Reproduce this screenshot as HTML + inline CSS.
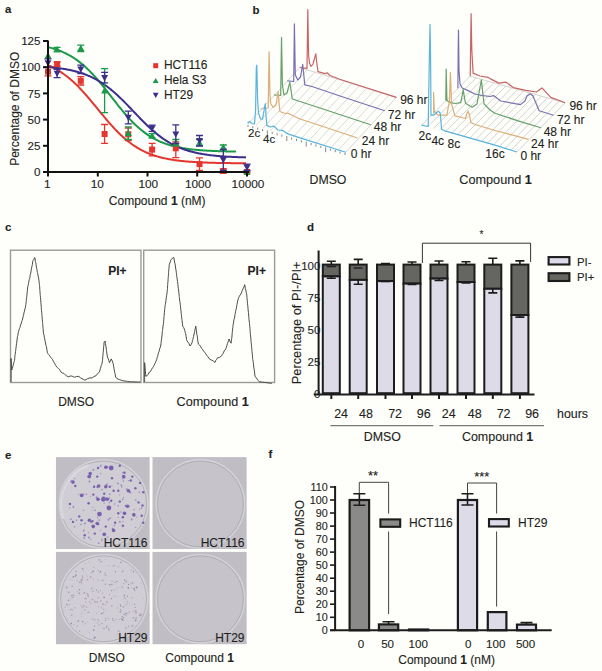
<!DOCTYPE html>
<html><head><meta charset="utf-8"><style>
html,body{margin:0;padding:0;background:#fff;}
svg{display:block;}
text{font-family:"Liberation Sans",sans-serif;stroke:#2a2a2a;stroke-width:0.12px;}
</style></head><body>
<svg width="602" height="671" viewBox="0 0 602 671">
<rect width="602" height="671" fill="#fefefb"/>
<text x="5" y="13.4" font-size="11.3" text-anchor="start" font-weight="bold" fill="#231f20" >a</text>
<polyline points="48.0,65.13 49.0,65.57 50.0,66.02 51.0,66.49 52.0,66.97 53.0,67.47 54.0,67.99 55.0,68.53 56.0,69.08 57.0,69.65 58.0,70.25 59.0,70.86 60.0,71.49 61.0,72.14 62.0,72.81 63.0,73.50 64.0,74.21 65.0,74.95 66.0,75.70 67.0,76.48 68.0,77.27 69.0,78.09 70.0,78.93 71.0,79.79 72.0,80.67 73.0,81.57 74.0,82.49 75.0,83.43 76.0,84.40 77.0,85.38 78.0,86.38 79.0,87.40 80.0,88.44 81.0,89.50 82.0,90.57 83.0,91.66 84.0,92.77 85.0,93.89 86.0,95.03 87.0,96.18 88.0,97.34 89.0,98.51 90.0,99.69 91.0,100.88 92.0,102.08 93.0,103.29 94.0,104.50 95.0,105.72 96.0,106.94 97.0,108.16 98.0,109.38 99.0,110.61 100.0,111.83 101.0,113.05 102.0,114.26 103.0,115.47 104.0,116.67 105.0,117.87 106.0,119.05 107.0,120.23 108.0,121.40 109.0,122.55 110.0,123.69 111.0,124.82 112.0,125.93 113.0,127.03 114.0,128.11 115.0,129.17 116.0,130.22 117.0,131.25 118.0,132.26 119.0,133.25 120.0,134.22 121.0,135.17 122.0,136.10 123.0,137.01 124.0,137.90 125.0,138.77 126.0,139.61 127.0,140.44 128.0,141.24 129.0,142.03 130.0,142.79 131.0,143.53 132.0,144.25 133.0,144.95 134.0,145.63 135.0,146.29 136.0,146.93 137.0,147.55 138.0,148.14 139.0,148.73 140.0,149.29 141.0,149.83 142.0,150.36 143.0,150.86 144.0,151.35 145.0,151.83 146.0,152.29 147.0,152.73 148.0,153.15 149.0,153.56 150.0,153.96 151.0,154.34 152.0,154.71 153.0,155.06 154.0,155.40 155.0,155.73 156.0,156.04 157.0,156.34 158.0,156.64 159.0,156.92 160.0,157.18 161.0,157.44 162.0,157.69 163.0,157.93 164.0,158.16 165.0,158.38 166.0,158.59 167.0,158.79 168.0,158.99 169.0,159.18 170.0,159.35 171.0,159.53 172.0,159.69 173.0,159.85 174.0,160.00 175.0,160.15 176.0,160.29 177.0,160.42 178.0,160.55 179.0,160.67 180.0,160.79 181.0,160.90 182.0,161.01 183.0,161.11 184.0,161.21 185.0,161.30 186.0,161.40 187.0,161.48 188.0,161.57 189.0,161.65 190.0,161.72 191.0,161.79 192.0,161.86 193.0,161.93 194.0,162.00 195.0,162.06 196.0,162.12 197.0,162.17 198.0,162.23 199.0,162.28 200.0,162.33 201.0,162.37 202.0,162.42 203.0,162.46 204.0,162.50 205.0,162.54 206.0,162.58 207.0,162.62 208.0,162.65 209.0,162.68 210.0,162.71 211.0,162.74 212.0,162.77 213.0,162.80 214.0,162.83 215.0,162.85 216.0,162.88 217.0,162.90 218.0,162.92 219.0,162.94 220.0,162.96 221.0,162.98 222.0,163.00 223.0,163.02 224.0,163.04 225.0,163.05 226.0,163.07 227.0,163.08 228.0,163.10 229.0,163.11 230.0,163.12 231.0,163.14 232.0,163.15 233.0,163.16 234.0,163.17 235.0,163.18 236.0,163.19 237.0,163.20 238.0,163.21 239.0,163.22 240.0,163.23 241.0,163.23 242.0,163.24 243.0,163.25 244.0,163.26 245.0,163.26 246.0,163.27" fill="none" stroke="#e4352f" stroke-width="2"/>
<polyline points="48.0,47.10 49.0,47.35 50.0,47.61 51.0,47.88 52.0,48.16 53.0,48.45 54.0,48.76 55.0,49.07 56.0,49.40 57.0,49.75 58.0,50.10 59.0,50.48 60.0,50.86 61.0,51.26 62.0,51.68 63.0,52.12 64.0,52.57 65.0,53.04 66.0,53.52 67.0,54.02 68.0,54.55 69.0,55.09 70.0,55.65 71.0,56.23 72.0,56.83 73.0,57.45 74.0,58.09 75.0,58.76 76.0,59.44 77.0,60.15 78.0,60.88 79.0,61.63 80.0,62.40 81.0,63.20 82.0,64.02 83.0,64.86 84.0,65.73 85.0,66.62 86.0,67.53 87.0,68.47 88.0,69.42 89.0,70.40 90.0,71.41 91.0,72.43 92.0,73.47 93.0,74.54 94.0,75.63 95.0,76.73 96.0,77.86 97.0,79.00 98.0,80.16 99.0,81.34 100.0,82.53 101.0,83.73 102.0,84.95 103.0,86.19 104.0,87.43 105.0,88.68 106.0,89.94 107.0,91.21 108.0,92.49 109.0,93.77 110.0,95.05 111.0,96.33 112.0,97.62 113.0,98.90 114.0,100.18 115.0,101.46 116.0,102.73 117.0,104.00 118.0,105.26 119.0,106.51 120.0,107.75 121.0,108.98 122.0,110.19 123.0,111.39 124.0,112.58 125.0,113.75 126.0,114.91 127.0,116.04 128.0,117.16 129.0,118.26 130.0,119.34 131.0,120.40 132.0,121.44 133.0,122.46 134.0,123.45 135.0,124.42 136.0,125.37 137.0,126.30 138.0,127.21 139.0,128.09 140.0,128.95 141.0,129.78 142.0,130.60 143.0,131.39 144.0,132.15 145.0,132.90 146.0,133.62 147.0,134.32 148.0,135.00 149.0,135.65 150.0,136.29 151.0,136.90 152.0,137.50 153.0,138.07 154.0,138.63 155.0,139.16 156.0,139.68 157.0,140.18 158.0,140.66 159.0,141.12 160.0,141.56 161.0,141.99 162.0,142.40 163.0,142.80 164.0,143.18 165.0,143.55 166.0,143.90 167.0,144.24 168.0,144.57 169.0,144.88 170.0,145.18 171.0,145.47 172.0,145.75 173.0,146.01 174.0,146.27 175.0,146.51 176.0,146.75 177.0,146.97 178.0,147.19 179.0,147.39 180.0,147.59 181.0,147.78 182.0,147.96 183.0,148.13 184.0,148.30 185.0,148.46 186.0,148.61 187.0,148.76 188.0,148.90 189.0,149.03 190.0,149.16 191.0,149.28 192.0,149.40 193.0,149.51 194.0,149.62 195.0,149.72 196.0,149.82 197.0,149.91 198.0,150.00 199.0,150.09 200.0,150.17 201.0,150.25 202.0,150.32 203.0,150.39 204.0,150.46 205.0,150.53 206.0,150.59 207.0,150.65 208.0,150.70 209.0,150.76 210.0,150.81 211.0,150.86 212.0,150.91 213.0,150.95 214.0,151.00 215.0,151.04 216.0,151.08 217.0,151.11 218.0,151.15 219.0,151.18 220.0,151.22 221.0,151.25 222.0,151.28 223.0,151.31 224.0,151.33 225.0,151.36 226.0,151.39 227.0,151.41 228.0,151.43 229.0,151.45 230.0,151.47 231.0,151.49 232.0,151.51 233.0,151.53 234.0,151.55 235.0,151.56 236.0,151.58" fill="none" stroke="#1a9a4a" stroke-width="2"/>
<polyline points="48.0,67.03 49.0,67.11 50.0,67.20 51.0,67.29 52.0,67.39 53.0,67.49 54.0,67.60 55.0,67.71 56.0,67.82 57.0,67.94 58.0,68.07 59.0,68.20 60.0,68.33 61.0,68.48 62.0,68.62 63.0,68.78 64.0,68.94 65.0,69.11 66.0,69.28 67.0,69.47 68.0,69.66 69.0,69.85 70.0,70.06 71.0,70.28 72.0,70.50 73.0,70.73 74.0,70.97 75.0,71.23 76.0,71.49 77.0,71.76 78.0,72.05 79.0,72.34 80.0,72.65 81.0,72.97 82.0,73.30 83.0,73.64 84.0,74.00 85.0,74.37 86.0,74.75 87.0,75.15 88.0,75.56 89.0,75.98 90.0,76.42 91.0,76.88 92.0,77.35 93.0,77.84 94.0,78.35 95.0,78.87 96.0,79.41 97.0,79.96 98.0,80.54 99.0,81.13 100.0,81.74 101.0,82.36 102.0,83.01 103.0,83.67 104.0,84.35 105.0,85.05 106.0,85.77 107.0,86.51 108.0,87.26 109.0,88.03 110.0,88.82 111.0,89.63 112.0,90.46 113.0,91.30 114.0,92.16 115.0,93.04 116.0,93.93 117.0,94.84 118.0,95.76 119.0,96.70 120.0,97.65 121.0,98.61 122.0,99.59 123.0,100.58 124.0,101.58 125.0,102.59 126.0,103.60 127.0,104.63 128.0,105.66 129.0,106.70 130.0,107.74 131.0,108.79 132.0,109.84 133.0,110.89 134.0,111.94 135.0,112.99 136.0,114.04 137.0,115.09 138.0,116.13 139.0,117.17 140.0,118.21 141.0,119.23 142.0,120.25 143.0,121.27 144.0,122.27 145.0,123.26 146.0,124.24 147.0,125.20 148.0,126.16 149.0,127.10 150.0,128.03 151.0,128.94 152.0,129.84 153.0,130.72 154.0,131.58 155.0,132.43 156.0,133.26 157.0,134.07 158.0,134.87 159.0,135.65 160.0,136.41 161.0,137.15 162.0,137.87 163.0,138.57 164.0,139.26 165.0,139.93 166.0,140.58 167.0,141.21 168.0,141.82 169.0,142.42 170.0,143.00 171.0,143.56 172.0,144.10 173.0,144.63 174.0,145.14 175.0,145.63 176.0,146.11 177.0,146.57 178.0,147.01 179.0,147.44 180.0,147.86 181.0,148.26 182.0,148.65 183.0,149.02 184.0,149.38 185.0,149.73 186.0,150.06 187.0,150.38 188.0,150.69 189.0,150.99 190.0,151.28 191.0,151.55 192.0,151.82 193.0,152.07 194.0,152.32 195.0,152.55 196.0,152.78 197.0,153.00 198.0,153.20 199.0,153.40 200.0,153.60 201.0,153.78 202.0,153.96 203.0,154.13 204.0,154.29 205.0,154.45 206.0,154.60 207.0,154.74 208.0,154.88 209.0,155.01 210.0,155.14 211.0,155.26 212.0,155.38 213.0,155.49 214.0,155.59 215.0,155.70 216.0,155.79 217.0,155.89 218.0,155.98 219.0,156.06 220.0,156.15 221.0,156.22 222.0,156.30 223.0,156.37 224.0,156.44 225.0,156.51 226.0,156.57 227.0,156.63 228.0,156.69 229.0,156.74 230.0,156.80 231.0,156.85 232.0,156.90 233.0,156.94 234.0,156.99 235.0,157.03 236.0,157.07 237.0,157.11 238.0,157.15 239.0,157.18 240.0,157.22 241.0,157.25 242.0,157.28 243.0,157.31 244.0,157.34 245.0,157.37 246.0,157.39" fill="none" stroke="#3c2f8c" stroke-width="2"/>
<path d="M48.0,67.4V75.8M44.5,67.4h7M44.5,75.8h7" stroke="#e4352f" stroke-width="1.3" fill="none"/>
<rect x="45.0" y="68.6" width="6" height="6" fill="#e4352f"/>
<path d="M57.1,62.0V66.2M53.6,62.0h7M53.6,66.2h7" stroke="#e4352f" stroke-width="1.3" fill="none"/>
<rect x="54.1" y="61.1" width="6" height="6" fill="#e4352f"/>
<path d="M80.8,76.6V85.0M77.3,76.6h7M77.3,85.0h7" stroke="#e4352f" stroke-width="1.3" fill="none"/>
<rect x="77.8" y="77.8" width="6" height="6" fill="#e4352f"/>
<path d="M104.6,124.5V143.4M101.1,124.5h7M101.1,143.4h7" stroke="#e4352f" stroke-width="1.3" fill="none"/>
<rect x="101.6" y="131.0" width="6" height="6" fill="#e4352f"/>
<path d="M128.3,128.0V140.6M124.8,128.0h7M124.8,140.6h7" stroke="#e4352f" stroke-width="1.3" fill="none"/>
<rect x="125.3" y="131.3" width="6" height="6" fill="#e4352f"/>
<path d="M152.1,143.3V155.9M148.6,143.3h7M148.6,155.9h7" stroke="#e4352f" stroke-width="1.3" fill="none"/>
<rect x="149.1" y="146.6" width="6" height="6" fill="#e4352f"/>
<path d="M175.8,142.0V157.7M172.3,142.0h7M172.3,157.7h7" stroke="#e4352f" stroke-width="1.3" fill="none"/>
<rect x="172.8" y="145.3" width="6" height="6" fill="#e4352f"/>
<path d="M199.5,157.9V170.4M196.0,157.9h7M196.0,170.4h7" stroke="#e4352f" stroke-width="1.3" fill="none"/>
<rect x="196.5" y="161.1" width="6" height="6" fill="#e4352f"/>
<path d="M223.3,168.9V173.0M219.8,168.9h7M219.8,173.0h7" stroke="#e4352f" stroke-width="1.3" fill="none"/>
<rect x="220.3" y="168.0" width="6" height="6" fill="#e4352f"/>
<path d="M247.0,171.0V173.0M243.5,171.0h7M243.5,173.0h7" stroke="#e4352f" stroke-width="1.3" fill="none"/>
<rect x="244.0" y="169.0" width="6" height="6" fill="#e4352f"/>
<path d="M48.0,52.2L51.5,58.5L44.5,58.5Z" fill="#1a9a4a"/>
<path d="M57.1,47.3V51.5M53.6,47.3h7M53.6,51.5h7" stroke="#1a9a4a" stroke-width="1.3" fill="none"/>
<path d="M57.1,45.9L60.6,52.2L53.6,52.2Z" fill="#1a9a4a"/>
<path d="M80.8,45.2V51.5M77.3,45.2h7M77.3,51.5h7" stroke="#1a9a4a" stroke-width="1.3" fill="none"/>
<path d="M80.8,44.8L84.3,51.1L77.3,51.1Z" fill="#1a9a4a"/>
<path d="M104.6,68.6V112.6M101.1,68.6h7M101.1,112.6h7" stroke="#1a9a4a" stroke-width="1.3" fill="none"/>
<path d="M104.6,87.1L108.1,93.4L101.1,93.4Z" fill="#1a9a4a"/>
<path d="M128.3,126.9V139.5M124.8,126.9h7M124.8,139.5h7" stroke="#1a9a4a" stroke-width="1.3" fill="none"/>
<path d="M128.3,129.7L131.8,136.0L124.8,136.0Z" fill="#1a9a4a"/>
<path d="M152.1,133.6V137.8M148.6,133.6h7M148.6,137.8h7" stroke="#1a9a4a" stroke-width="1.3" fill="none"/>
<path d="M152.1,132.2L155.6,138.5L148.6,138.5Z" fill="#1a9a4a"/>
<path d="M175.8,139.5V145.8M172.3,139.5h7M172.3,145.8h7" stroke="#1a9a4a" stroke-width="1.3" fill="none"/>
<path d="M175.8,139.2L179.3,145.5L172.3,145.5Z" fill="#1a9a4a"/>
<path d="M199.5,139.5V145.8M196.0,139.5h7M196.0,145.8h7" stroke="#1a9a4a" stroke-width="1.3" fill="none"/>
<path d="M199.5,139.2L203.0,145.5L196.0,145.5Z" fill="#1a9a4a"/>
<path d="M223.3,145.0V151.2M219.8,145.0h7M219.8,151.2h7" stroke="#1a9a4a" stroke-width="1.3" fill="none"/>
<path d="M223.3,143.6L226.8,149.9L219.8,149.9Z" fill="#1a9a4a"/>
<path d="M247.0,168.5L250.5,174.8L243.5,174.8Z" fill="#1a9a4a"/>
<path d="M48.0,58.8V67.2M44.5,58.8h7M44.5,67.2h7" stroke="#3c2f8c" stroke-width="1.3" fill="none"/>
<path d="M44.5,60.2L51.5,60.2L48.0,66.5Z" fill="#3c2f8c"/>
<path d="M57.1,69.3V77.7M53.6,69.3h7M53.6,77.7h7" stroke="#3c2f8c" stroke-width="1.3" fill="none"/>
<path d="M53.6,70.7L60.6,70.7L57.1,77.0Z" fill="#3c2f8c"/>
<path d="M80.8,65.1V73.5M77.3,65.1h7M77.3,73.5h7" stroke="#3c2f8c" stroke-width="1.3" fill="none"/>
<path d="M77.3,66.5L84.3,66.5L80.8,72.8Z" fill="#3c2f8c"/>
<path d="M104.6,72.4V82.9M101.1,72.4h7M101.1,82.9h7" stroke="#3c2f8c" stroke-width="1.3" fill="none"/>
<path d="M101.1,74.9L108.1,74.9L104.6,81.2Z" fill="#3c2f8c"/>
<path d="M128.3,111.2V123.8M124.8,111.2h7M124.8,123.8h7" stroke="#3c2f8c" stroke-width="1.3" fill="none"/>
<path d="M124.8,114.7L131.8,114.7L128.3,121.0Z" fill="#3c2f8c"/>
<path d="M152.1,125.2V131.4M148.6,125.2h7M148.6,131.4h7" stroke="#3c2f8c" stroke-width="1.3" fill="none"/>
<path d="M148.6,125.5L155.6,125.5L152.1,131.8Z" fill="#3c2f8c"/>
<path d="M175.8,124.8V143.7M172.3,124.8h7M172.3,143.7h7" stroke="#3c2f8c" stroke-width="1.3" fill="none"/>
<path d="M172.3,131.5L179.3,131.5L175.8,137.8Z" fill="#3c2f8c"/>
<path d="M199.5,135.5V146.0M196.0,135.5h7M196.0,146.0h7" stroke="#3c2f8c" stroke-width="1.3" fill="none"/>
<path d="M196.0,138.0L203.0,138.0L199.5,144.3Z" fill="#3c2f8c"/>
<path d="M223.3,149.5V170.4M219.8,149.5h7M219.8,170.4h7" stroke="#3c2f8c" stroke-width="1.3" fill="none"/>
<path d="M219.8,157.1L226.8,157.1L223.3,163.4Z" fill="#3c2f8c"/>
<path d="M247.0,164.2V170.5M243.5,164.2h7M243.5,170.5h7" stroke="#3c2f8c" stroke-width="1.3" fill="none"/>
<path d="M243.5,164.6L250.5,164.6L247.0,170.9Z" fill="#3c2f8c"/>
<path d="M48,40.5V173M47,172H249" stroke="#111" stroke-width="2" fill="none"/>
<path d="M43,172.0H48" stroke="#111" stroke-width="2"/>
<text x="40.5" y="176.2" font-size="11.6" text-anchor="end" font-weight="normal" fill="#231f20" >0</text>
<path d="M43,145.8H48" stroke="#111" stroke-width="2"/>
<text x="40.5" y="150.0" font-size="11.6" text-anchor="end" font-weight="normal" fill="#231f20" >25</text>
<path d="M43,119.6H48" stroke="#111" stroke-width="2"/>
<text x="40.5" y="123.8" font-size="11.6" text-anchor="end" font-weight="normal" fill="#231f20" >50</text>
<path d="M43,93.4H48" stroke="#111" stroke-width="2"/>
<text x="40.5" y="97.6" font-size="11.6" text-anchor="end" font-weight="normal" fill="#231f20" >75</text>
<path d="M43,67.2H48" stroke="#111" stroke-width="2"/>
<text x="40.5" y="71.39999999999999" font-size="11.6" text-anchor="end" font-weight="normal" fill="#231f20" >100</text>
<path d="M43,41.0H48" stroke="#111" stroke-width="2"/>
<text x="40.5" y="45.2" font-size="11.6" text-anchor="end" font-weight="normal" fill="#231f20" >125</text>
<path d="M48.0,172V176.5" stroke="#111" stroke-width="2"/>
<text x="47.4" y="188.3" font-size="11.8" text-anchor="middle" font-weight="normal" fill="#231f20" >1</text>
<path d="M97.8,172V176.5" stroke="#111" stroke-width="2"/>
<text x="97.25" y="188.3" font-size="11.8" text-anchor="middle" font-weight="normal" fill="#231f20" >10</text>
<path d="M147.5,172V176.5" stroke="#111" stroke-width="2"/>
<text x="148.3" y="188.3" font-size="11.8" text-anchor="middle" font-weight="normal" fill="#231f20" >100</text>
<path d="M197.2,172V176.5" stroke="#111" stroke-width="2"/>
<text x="198.05" y="188.3" font-size="11.8" text-anchor="middle" font-weight="normal" fill="#231f20" >1000</text>
<path d="M247.0,172V176.5" stroke="#111" stroke-width="2"/>
<text x="248.0" y="188.3" font-size="11.8" text-anchor="middle" font-weight="normal" fill="#231f20" >10000</text>
<text x="157.2" y="205.2" font-size="12" text-anchor="middle" font-weight="normal" fill="#231f20" >Compound <tspan font-weight="bold">1</tspan> (nM)</text>
<text x="0" y="0" font-size="12" text-anchor="middle" font-weight="normal" fill="#231f20" transform="translate(19.1,108.8) rotate(-90)">Percentage of DMSO</text>
<rect x="153.2" y="63.2" width="5" height="5" fill="#e4352f"/>
<path d="M155.7,77.9L158.7,83L152.7,83Z" fill="#1a9a4a"/>
<path d="M152.8,92.8L158.6,92.8L155.7,98Z" fill="#3c2f8c"/>
<text x="164" y="68.6" font-size="11.9" text-anchor="start" font-weight="normal" fill="#231f20" >HCT116</text>
<text x="164" y="84" font-size="11.9" text-anchor="start" font-weight="normal" fill="#231f20" >Hela S3</text>
<text x="164" y="98.5" font-size="11.9" text-anchor="start" font-weight="normal" fill="#231f20" >HT29</text>
<text x="252.5" y="13.6" font-size="11.5" text-anchor="start" font-weight="bold" fill="#231f20" >b</text>
<path d="M248,124L299.8,67.5L396.4,97.4L345.8,152.2" fill="none" stroke="#c8c8c8" stroke-width="0.8"/>
<path d="M255.5,126.2L307.2,69.8M263.0,128.3L314.7,72.1M270.6,130.5L322.1,74.4M278.1,132.7L329.5,76.7M285.6,134.8L337.0,79.0M293.1,137.0L344.4,81.3M300.7,139.2L351.8,83.6M308.2,141.4L359.2,85.9M315.7,143.5L366.7,88.2M323.2,145.7L374.1,90.5M330.8,147.9L381.5,92.8M338.3,150.0L389.0,95.1" stroke="#d0d0d0" stroke-width="0.8" fill="none"/>
<polyline points="299.8,67.5 307.0,68.3 307.8,9.7 308.6,55 309.5,63 311,66.5 313,64 315.8,53.8 316.8,63 318,71.7 325,73.6 327,72.8 330,75.5 339.7,79.2 396.4,97.4" fill="none" stroke="#c96464" stroke-width="1.2" stroke-linejoin="round"/>
<polyline points="287.3,80.8 293.7,81.5 294.4,23.9 295.3,75 297.8,80 300.5,77 302.7,64.3 303.8,75 304.8,84.9 312,86.5 340,96 384.8,110.7" fill="none" stroke="#7a72b0" stroke-width="1.2" stroke-linejoin="round"/>
<polyline points="274,94.9 280.7,95.5 281.5,37.4 282.4,85 284,94.9 287,93 289.8,82.4 291,90 292.3,99 300,101.5 320,108 370.7,124.8" fill="none" stroke="#66a06a" stroke-width="1.2" stroke-linejoin="round"/>
<polyline points="260.8,109 268.2,108 269.1,51.6 270,95 270.8,104 273.2,107.3 276,105 278.2,91.6 279.2,105 279.9,111.5 285,113.5 287.5,113 300,119 320,125.5 357.4,138" fill="none" stroke="#dcae78" stroke-width="1.2" stroke-linejoin="round"/>
<path d="M248.0,124.8V127.0M252.8,126.2V128.4M257.7,127.6V129.8M262.6,129.0V131.2M267.4,130.4V135.4M272.2,131.8V134.0M277.1,133.2V135.4M281.9,134.6V136.8M286.8,136.0V141.0M291.6,137.4V139.6M296.5,138.8V141.0M301.4,140.2V142.4M306.2,141.6V146.6M311.1,143.0V145.2M315.9,144.4V146.6M320.8,145.8V148.0M325.6,147.2V152.2M330.4,148.6V150.8M335.3,150.0V152.2M340.1,151.4V153.6M345.0,152.8V155.0" stroke="#7a7a7a" stroke-width="0.9"/>
<polyline points="247.5,122.9 249.5,121.4 252,123.5 254.5,124 255.6,110 256.3,68 256.8,65 257.6,100 258.5,113 260.5,119 262.5,119.2 264.5,108 265.3,103.5 266.2,118 266.8,125.4 270,127 273.9,126.1 277.9,130 282.9,130.4 287.9,133.9 304.8,139.4 345.8,152.2" fill="none" stroke="#58b4dc" stroke-width="1.2" stroke-linejoin="round"/>
<text x="400.2" y="103.9" font-size="12" text-anchor="start" font-weight="normal" fill="#231f20" >96 hr</text>
<text x="387.8" y="118.5" font-size="12" text-anchor="start" font-weight="normal" fill="#231f20" >72 hr</text>
<text x="373.8" y="131.2" font-size="12" text-anchor="start" font-weight="normal" fill="#231f20" >48 hr</text>
<text x="361.8" y="145.3" font-size="12" text-anchor="start" font-weight="normal" fill="#231f20" >24 hr</text>
<text x="350.8" y="158.1" font-size="12" text-anchor="start" font-weight="normal" fill="#231f20" >0 hr</text>
<text x="248" y="137.4" font-size="11.5" text-anchor="start" font-weight="normal" fill="#231f20" >2c</text>
<text x="263" y="142.9" font-size="11.5" text-anchor="start" font-weight="normal" fill="#231f20" >4c</text>
<text x="328" y="183.7" font-size="12.3" text-anchor="middle" font-weight="normal" fill="#231f20" >DMSO</text>
<path d="M421.6,125.2L470.2,76.2L565.1,102.8L516.8,152" fill="none" stroke="#c8c8c8" stroke-width="0.8"/>
<path d="M427.6,126.9L476.1,77.9M433.5,128.6L482.1,79.5M439.4,130.2L488.0,81.2M445.4,131.9L493.9,82.8M451.4,133.6L499.9,84.5M457.3,135.2L505.8,86.2M463.2,136.9L511.7,87.8M469.2,138.6L517.6,89.5M475.1,140.3L523.6,91.2M481.1,141.9L529.5,92.8M487.0,143.6L535.4,94.5M493.0,145.3L541.4,96.2M498.9,147.0L547.3,97.8M504.9,148.7L553.2,99.5M510.8,150.3L559.2,101.1" stroke="#c8c8c8" stroke-width="0.8" fill="none"/>
<polyline points="470.2,76.2 470.7,40 471.1,13.7 471.8,50 473.1,73.1 480,76 488,77.3 490,78.6 498.9,83.1 506.1,82.2 513.3,87.6 525.8,90.3 536.5,92 541.9,87.9 550.8,97.4 565.1,102.8" fill="none" stroke="#c96464" stroke-width="1.2" stroke-linejoin="round"/>
<polyline points="457.9,88.3 458.2,50 458.5,30 459,70 460,84 462.2,88 468.2,90.6 474.8,94 481.4,95.3 490,96.5 493.6,95.6 500.7,101 520.4,104.6 524.9,101 527,96 530.3,93.8 533,96 535.5,102 539.2,110.8 553.5,115.3" fill="none" stroke="#7a72b0" stroke-width="1.2" stroke-linejoin="round"/>
<polyline points="445.8,100.6 446.2,69 446.9,100.6 450.9,102.6 455,103.5 460.8,102.6 462.3,95 463.2,89.7 464.2,96 465.5,103.3 472.1,107.2 477,104 479.5,90 481.4,79.8 483,95 484.1,103.9 490,110 495,113.2 520.4,121.6 541,127.8" fill="none" stroke="#66a06a" stroke-width="1.2" stroke-linejoin="round"/>
<polyline points="433.7,112.9 433.6,92.6 434.3,111 436,113.5 438.3,115.2 446.9,115.2 449.5,100 450.4,72.3 451.5,103.9 454.9,115.9 460,117 465.5,118.5 467,113 468.2,111.2 469.5,115 470.8,122.5 475,124.5 495,130.5 528.5,139.4" fill="none" stroke="#dcae78" stroke-width="1.2" stroke-linejoin="round"/>
<polyline points="421.6,125.2 428.2,126.5 429.3,60 430.0,24.3 430.6,60 431.0,115.2 433.6,115.2 436,113 438.3,111.2 440.2,113.2 441.6,129.2 445.6,131.2 495,145.1 516.8,152" fill="none" stroke="#58b4dc" stroke-width="1.2" stroke-linejoin="round"/>
<text x="569.4" y="109.8" font-size="12" text-anchor="start" font-weight="normal" fill="#231f20" >96 hr</text>
<text x="557.1" y="124" font-size="12" text-anchor="start" font-weight="normal" fill="#231f20" >72 hr</text>
<text x="543.7" y="136.4" font-size="12" text-anchor="start" font-weight="normal" fill="#231f20" >48 hr</text>
<text x="531.1" y="147.6" font-size="12" text-anchor="start" font-weight="normal" fill="#231f20" >24 hr</text>
<text x="520.4" y="159.9" font-size="12" text-anchor="start" font-weight="normal" fill="#231f20" >0 hr</text>
<text x="418.5" y="139.5" font-size="12" text-anchor="start" font-weight="normal" fill="#231f20" >2c</text>
<text x="431.4" y="144.8" font-size="12" text-anchor="start" font-weight="normal" fill="#231f20" >4c</text>
<text x="447.6" y="147.6" font-size="12" text-anchor="start" font-weight="normal" fill="#231f20" >8c</text>
<text x="485.3" y="158.4" font-size="12" text-anchor="start" font-weight="normal" fill="#231f20" >16c</text>
<text x="495.6" y="183.5" font-size="12.7" text-anchor="middle" font-weight="normal" fill="#231f20" >Compound <tspan font-weight="bold">1</tspan></text>
<text x="307" y="230.9" font-size="11.5" text-anchor="start" font-weight="bold" fill="#231f20" >d</text>
<path d="M422.4,263V243.2H530.6V262" stroke="#333" stroke-width="1" fill="none"/>
<text x="481.4" y="237.5" font-size="10" text-anchor="middle" font-weight="normal" fill="#231f20" >*</text>
<rect x="322.8" y="264.6" width="17" height="11.8" fill="#656662" stroke="#1c1c1c" stroke-width="2"/>
<rect x="322.8" y="276.4" width="17" height="116.8" fill="#dedbe9" stroke="#1c1c1c" stroke-width="2"/>
<path d="M326.8,261.2h9M331.3,261.2V264.6M326.8,278.2h9M331.3,276.4312V278.2" stroke="#1c1c1c" stroke-width="1.6" fill="none"/>
<path d="M326.8,266.6h9" stroke="#1c1c1c" stroke-width="1.3" fill="none"/>
<path d="M331.3,393.2V399" stroke="#1c1c1c" stroke-width="2"/>
<rect x="349.7" y="264.6" width="17" height="15.3" fill="#656662" stroke="#1c1c1c" stroke-width="2"/>
<rect x="349.7" y="279.9" width="17" height="113.3" fill="#dedbe9" stroke="#1c1c1c" stroke-width="2"/>
<path d="M353.7,259.4h9M358.2,259.4V264.6M353.7,284.3h9M358.2,279.9034V284.3" stroke="#1c1c1c" stroke-width="1.6" fill="none"/>
<path d="M353.7,268.0h9" stroke="#1c1c1c" stroke-width="1.3" fill="none"/>
<path d="M358.2,393.2V399" stroke="#1c1c1c" stroke-width="2"/>
<rect x="377.0" y="264.6" width="17" height="16.5" fill="#656662" stroke="#1c1c1c" stroke-width="2"/>
<rect x="377.0" y="281.1" width="17" height="112.1" fill="#dedbe9" stroke="#1c1c1c" stroke-width="2"/>
<path d="M381.0,263.6h9M385.5,263.6V264.6M381.0,281.5h9M385.5,281.0608V281.5" stroke="#1c1c1c" stroke-width="1.6" fill="none"/>
<path d="M385.5,393.2V399" stroke="#1c1c1c" stroke-width="2"/>
<rect x="403.5" y="264.6" width="17" height="19.0" fill="#656662" stroke="#1c1c1c" stroke-width="2"/>
<rect x="403.5" y="283.6" width="17" height="109.6" fill="#dedbe9" stroke="#1c1c1c" stroke-width="2"/>
<path d="M407.5,262.0h9M412.0,262.0V264.6M407.5,284.5h9M412.0,283.6328V284.5" stroke="#1c1c1c" stroke-width="1.6" fill="none"/>
<path d="M412.0,393.2V399" stroke="#1c1c1c" stroke-width="2"/>
<rect x="430.5" y="264.6" width="17" height="14.0" fill="#656662" stroke="#1c1c1c" stroke-width="2"/>
<rect x="430.5" y="278.6" width="17" height="114.6" fill="#dedbe9" stroke="#1c1c1c" stroke-width="2"/>
<path d="M434.5,261.0h9M439.0,261.0V264.6M434.5,280.5h9M439.0,278.6174V280.5" stroke="#1c1c1c" stroke-width="1.6" fill="none"/>
<path d="M439.0,393.2V399" stroke="#1c1c1c" stroke-width="2"/>
<rect x="457.5" y="264.6" width="17" height="17.4" fill="#656662" stroke="#1c1c1c" stroke-width="2"/>
<rect x="457.5" y="282.0" width="17" height="111.2" fill="#dedbe9" stroke="#1c1c1c" stroke-width="2"/>
<path d="M461.5,261.7h9M466.0,261.7V264.6M461.5,283.0h9M466.0,281.961V283.0" stroke="#1c1c1c" stroke-width="1.6" fill="none"/>
<path d="M466.0,393.2V399" stroke="#1c1c1c" stroke-width="2"/>
<rect x="484.3" y="264.6" width="17" height="24.2" fill="#656662" stroke="#1c1c1c" stroke-width="2"/>
<rect x="484.3" y="288.8" width="17" height="104.4" fill="#dedbe9" stroke="#1c1c1c" stroke-width="2"/>
<path d="M488.3,258.3h9M492.8,258.3V264.6M488.3,292.9h9M492.8,288.7768V292.9" stroke="#1c1c1c" stroke-width="1.6" fill="none"/>
<path d="M492.8,393.2V399" stroke="#1c1c1c" stroke-width="2"/>
<rect x="511.4" y="264.6" width="17" height="50.4" fill="#656662" stroke="#1c1c1c" stroke-width="2"/>
<rect x="511.4" y="315.0" width="17" height="78.2" fill="#dedbe9" stroke="#1c1c1c" stroke-width="2"/>
<path d="M515.4,260.9h9M519.9,260.9V264.6M515.4,317.1h9M519.9,315.0112V317.1" stroke="#1c1c1c" stroke-width="1.6" fill="none"/>
<path d="M519.9,393.2V399" stroke="#1c1c1c" stroke-width="2"/>
<path d="M318.6,250.5V395.2M313.7,394.5H534.5" stroke="#1c1c1c" stroke-width="2" fill="none"/>
<text x="320.4" y="398.09999999999997" font-size="11.5" text-anchor="end" font-weight="normal" fill="#231f20" >0</text>
<text x="320.4" y="365.95" font-size="11.5" text-anchor="end" font-weight="normal" fill="#231f20" >25</text>
<text x="320.4" y="333.79999999999995" font-size="11.5" text-anchor="end" font-weight="normal" fill="#231f20" >50</text>
<text x="320.4" y="301.65" font-size="11.5" text-anchor="end" font-weight="normal" fill="#231f20" >75</text>
<text x="320.4" y="269.5" font-size="11.5" text-anchor="end" font-weight="normal" fill="#231f20" >100</text>
<text x="341.1" y="417.7" font-size="12.5" text-anchor="middle" font-weight="normal" fill="#231f20" >24</text>
<text x="366.0" y="417.7" font-size="12.5" text-anchor="middle" font-weight="normal" fill="#231f20" >48</text>
<text x="395.1" y="417.7" font-size="12.5" text-anchor="middle" font-weight="normal" fill="#231f20" >72</text>
<text x="423.8" y="417.7" font-size="12.5" text-anchor="middle" font-weight="normal" fill="#231f20" >96</text>
<text x="448.8" y="417.7" font-size="12.5" text-anchor="middle" font-weight="normal" fill="#231f20" >24</text>
<text x="474.8" y="417.7" font-size="12.5" text-anchor="middle" font-weight="normal" fill="#231f20" >48</text>
<text x="503.6" y="417.7" font-size="12.5" text-anchor="middle" font-weight="normal" fill="#231f20" >72</text>
<text x="532.0999999999999" y="417.7" font-size="12.5" text-anchor="middle" font-weight="normal" fill="#231f20" >96</text>
<text x="557" y="417.8" font-size="12.4" text-anchor="start" font-weight="normal" fill="#231f20" >hours</text>
<path d="M330.4,425.7H433.3M439.5,425.7H544" stroke="#777" stroke-width="1.2"/>
<text x="382.4" y="441" font-size="12.4" text-anchor="middle" font-weight="normal" fill="#231f20" >DMSO</text>
<text x="497.6" y="441" font-size="12.45" text-anchor="middle" font-weight="normal" fill="#231f20" >Compound <tspan font-weight="bold">1</tspan></text>
<text x="0" y="0" font-size="12.8" text-anchor="middle" font-weight="normal" fill="#231f20" transform="translate(301.4,322.9) rotate(-90)">Percentage of PI-/PI+</text>
<rect x="548.6" y="257.1" width="20.8" height="7.4" fill="#dedbe9" stroke="#1c1c1c" stroke-width="2.1"/>
<rect x="548.6" y="273.2" width="20.8" height="7.8" fill="#656662" stroke="#1c1c1c" stroke-width="2.1"/>
<text x="577" y="265.8" font-size="11.4" text-anchor="start" font-weight="normal" fill="#231f20" >PI-</text>
<text x="577" y="281.4" font-size="11.4" text-anchor="start" font-weight="normal" fill="#231f20" >PI+</text>
<text x="268.4" y="458" font-size="11.5" text-anchor="start" font-weight="bold" fill="#231f20" >f</text>
<rect x="349.6" y="500.0" width="19.5" height="130.3" fill="#8a8a88" stroke="#1c1c1c" stroke-width="2.2"/>
<path d="M353.35,493.7h12M359.35,493.7V500.0M353.35,505.3h12M359.35,500.0V505.3" stroke="#1c1c1c" stroke-width="1.6" fill="none"/>
<rect x="378.90000000000003" y="624.4" width="19.3" height="5.9" fill="#8a8a88" stroke="#1c1c1c" stroke-width="2.2"/>
<path d="M382.55,621.7h12M388.55,621.7V624.4" stroke="#1c1c1c" stroke-width="1.6" fill="none"/>
<rect x="409.0" y="629.5" width="19.2" height="0.8" fill="#8a8a88" stroke="#1c1c1c" stroke-width="2.2"/>
<rect x="457.90000000000003" y="500.0" width="19.2" height="130.3" fill="#dedbe9" stroke="#1c1c1c" stroke-width="2.2"/>
<path d="M461.5,493.7h12M467.5,493.7V500.0M461.5,505.0h12M467.5,500.0V505.0" stroke="#1c1c1c" stroke-width="1.6" fill="none"/>
<rect x="487.8" y="612.1" width="18.6" height="18.2" fill="#dedbe9" stroke="#1c1c1c" stroke-width="2.2"/>
<rect x="517.0" y="624.6" width="19.0" height="5.7" fill="#dedbe9" stroke="#1c1c1c" stroke-width="2.2"/>
<path d="M520.5,622.6h12M526.5,622.6V624.6" stroke="#1c1c1c" stroke-width="1.6" fill="none"/>
<path d="M359.3,493V482.3H388.6V513.5M388.6,531.5V614" stroke="#444" stroke-width="1" fill="none"/>
<path d="M467.5,493V483H496.6V513.5M496.6,531.5V606.5" stroke="#444" stroke-width="1" fill="none"/>
<text x="373" y="480.2" font-size="13" text-anchor="middle" font-weight="normal" fill="#231f20" >**</text>
<text x="481.8" y="481" font-size="13" text-anchor="middle" font-weight="normal" fill="#231f20" >***</text>
<path d="M335.1,486V631.3M330,630.3H551.7" stroke="#1c1c1c" stroke-width="2" fill="none"/>
<path d="M330,630.3H335" stroke="#1c1c1c" stroke-width="1.6"/>
<text x="327.8" y="634.1999999999999" font-size="10.8" text-anchor="end" font-weight="normal" fill="#231f20" >0</text>
<path d="M330,617.3H335" stroke="#1c1c1c" stroke-width="1.6"/>
<text x="327.8" y="621.17" font-size="10.8" text-anchor="end" font-weight="normal" fill="#231f20" >10</text>
<path d="M330,604.2H335" stroke="#1c1c1c" stroke-width="1.6"/>
<text x="327.8" y="608.14" font-size="10.8" text-anchor="end" font-weight="normal" fill="#231f20" >20</text>
<path d="M330,591.2H335" stroke="#1c1c1c" stroke-width="1.6"/>
<text x="327.8" y="595.1099999999999" font-size="10.8" text-anchor="end" font-weight="normal" fill="#231f20" >30</text>
<path d="M330,578.2H335" stroke="#1c1c1c" stroke-width="1.6"/>
<text x="327.8" y="582.0799999999999" font-size="10.8" text-anchor="end" font-weight="normal" fill="#231f20" >40</text>
<path d="M330,565.1H335" stroke="#1c1c1c" stroke-width="1.6"/>
<text x="327.8" y="569.05" font-size="10.8" text-anchor="end" font-weight="normal" fill="#231f20" >50</text>
<path d="M330,552.1H335" stroke="#1c1c1c" stroke-width="1.6"/>
<text x="327.8" y="556.02" font-size="10.8" text-anchor="end" font-weight="normal" fill="#231f20" >60</text>
<path d="M330,539.1H335" stroke="#1c1c1c" stroke-width="1.6"/>
<text x="327.8" y="542.9899999999999" font-size="10.8" text-anchor="end" font-weight="normal" fill="#231f20" >70</text>
<path d="M330,526.1H335" stroke="#1c1c1c" stroke-width="1.6"/>
<text x="327.8" y="529.9599999999999" font-size="10.8" text-anchor="end" font-weight="normal" fill="#231f20" >80</text>
<path d="M330,513.0H335" stroke="#1c1c1c" stroke-width="1.6"/>
<text x="327.8" y="516.93" font-size="10.8" text-anchor="end" font-weight="normal" fill="#231f20" >90</text>
<path d="M330,500.0H335" stroke="#1c1c1c" stroke-width="1.6"/>
<text x="327.8" y="503.9" font-size="10.8" text-anchor="end" font-weight="normal" fill="#231f20" >100</text>
<path d="M330,487.0H335" stroke="#1c1c1c" stroke-width="1.6"/>
<text x="327.8" y="490.86999999999995" font-size="10.8" text-anchor="end" font-weight="normal" fill="#231f20" >110</text>
<rect x="380.4" y="519.4" width="19.8" height="7.4" fill="#8a8a88" stroke="#1c1c1c" stroke-width="2.1"/>
<rect x="489" y="519.1" width="19.8" height="7.4" fill="#dedbe9" stroke="#1c1c1c" stroke-width="2.1"/>
<text x="409" y="527.2" font-size="12" text-anchor="start" font-weight="normal" fill="#231f20" >HCT116</text>
<text x="518" y="527.2" font-size="12" text-anchor="start" font-weight="normal" fill="#231f20" >HT29</text>
<text x="361" y="647.8" font-size="11.6" text-anchor="middle" font-weight="normal" fill="#231f20" >0</text>
<text x="387.6" y="647.8" font-size="11.6" text-anchor="middle" font-weight="normal" fill="#231f20" >50</text>
<text x="418.2" y="647.8" font-size="11.6" text-anchor="middle" font-weight="normal" fill="#231f20" >100</text>
<text x="468.3" y="647.8" font-size="11.6" text-anchor="middle" font-weight="normal" fill="#231f20" >0</text>
<text x="495.7" y="647.8" font-size="11.6" text-anchor="middle" font-weight="normal" fill="#231f20" >100</text>
<text x="525.6" y="647.8" font-size="11.6" text-anchor="middle" font-weight="normal" fill="#231f20" >500</text>
<text x="446.6" y="664.2" font-size="12" text-anchor="middle" font-weight="normal" fill="#231f20" >Compound <tspan font-weight="bold">1</tspan> (nM)</text>
<text x="0" y="0" font-size="12" text-anchor="middle" font-weight="normal" fill="#231f20" transform="translate(304,557) rotate(-90)">Percentage of DMSO</text>
<text x="5" y="230.9" font-size="11.5" text-anchor="start" font-weight="bold" fill="#231f20" >c</text>
<rect x="10.5" y="250.2" width="130.5" height="132.3" fill="none" stroke="#9a9a9a" stroke-width="1.4"/>
<rect x="143.7" y="250.2" width="130.9" height="132.3" fill="none" stroke="#9a9a9a" stroke-width="1.4"/>
<polyline points="11.1,382.0 11.1,380.3 11.1,378.3 11.1,377.0 11.1,375.1 11.1,373.8 11.1,372.1 11.1,369.6 11.1,367.9 11.1,367.4 11.1,364.9 11.1,363.2 11.1,362.6 11.1,360.1 11.1,358.5 11.2,360.6 11.3,361.8 11.4,363.6 11.5,364.6 11.6,366.9 11.7,368.9 11.8,370.0 12.2,368.4 12.8,367.0 13.2,365.3 13.8,362.7 14.2,361.7 14.5,360.4 14.7,358.5 14.9,356.4 15.1,354.4 15.3,353.9 15.5,351.7 15.7,350.3 15.9,348.9 16.1,347.0 16.3,345.6 16.6,343.2 16.8,342.1 17.0,340.0 17.2,339.0 17.4,336.7 17.8,335.6 18.2,332.8 18.7,331.2 19.1,329.6 19.5,328.3 20.0,327.4 20.5,325.1 21.1,323.8 21.6,321.8 22.1,320.6 22.6,319.0 23.0,317.1 23.4,315.4 23.8,314.0 24.1,312.3 24.5,311.1 24.9,309.1 25.3,307.7 25.7,305.4 25.9,304.2 26.1,302.7 26.3,300.5 26.5,298.1 26.7,297.4 26.8,295.9 27.0,294.1 27.2,291.9 27.4,290.4 27.6,288.0 27.8,286.7 28.1,285.5 28.5,283.5 28.8,281.5 29.2,279.6 29.5,279.0 29.9,277.6 30.2,274.7 30.6,274.1 30.9,272.0 31.2,270.2 31.5,268.3 31.8,266.8 32.1,265.9 32.4,264.4 32.7,261.6 33.0,260.6 33.9,259.2 34.7,257.5 35.1,258.7 35.4,261.5 35.8,262.7 36.1,264.8 36.4,266.9 36.7,268.7 37.0,269.6 37.2,271.9 37.5,272.6 37.8,273.9 38.1,276.2 38.4,277.0 38.7,278.9 39.0,280.8 39.2,282.5 39.4,284.3 39.5,285.4 39.7,286.9 39.8,289.7 39.9,290.6 40.1,293.1 40.2,294.7 40.3,295.7 40.5,297.4 40.6,299.2 40.8,301.0 40.9,302.6 41.0,304.2 41.2,306.0 41.3,307.5 41.4,309.8 41.6,310.8 41.7,312.4 41.9,314.5 42.0,315.5 42.1,317.2 42.3,319.8 42.4,320.9 42.6,322.6 42.7,323.5 42.8,325.7 43.0,327.6 43.1,328.5 43.3,331.0 43.4,332.5 43.7,334.3 44.0,335.1 44.4,337.5 44.7,338.9 45.0,340.8 45.3,341.9 45.7,344.0 46.0,345.6 46.3,346.2 46.6,347.9 47.0,350.3 47.3,352.3 47.6,353.3 48.6,354.3 49.7,355.8 50.7,357.3 51.8,358.5 52.6,359.7 53.4,361.2 54.2,362.6 55.1,364.2 55.9,365.8 57.2,367.4 58.4,368.4 59.7,369.9 60.9,371.9 62.2,373.0 63.8,373.3 65.3,374.9 66.9,376.1 68.4,376.7 70.2,376.1 71.9,376.0 74.4,377.3 76.7,376.5 78.9,376.4 80.5,377.9 82.0,378.6 83.5,379.4 85.0,380.2 87.7,378.6 90.0,377.9 92.2,377.9 94.1,376.4 96.0,375.8 97.3,374.1 98.5,372.9 99.8,371.0 100.3,368.7 100.8,367.2 101.3,365.4 101.8,364.3 102.3,362.1 102.5,360.3 102.6,359.2 102.8,356.6 102.9,355.1 103.1,353.9 103.2,352.5 103.4,350.2 103.6,348.2 103.7,346.3 103.9,345.2 104.0,343.1 104.2,341.8 105.2,341.2 105.4,343.4 105.7,345.2 105.9,346.0 106.2,347.9 106.4,350.4 106.7,351.9 106.9,353.9 107.2,355.0 107.4,357.0 108.1,358.4 108.8,360.5 109.5,362.7 110.3,361.2 111.2,358.9 112.2,360.8 113.1,363.3 113.4,364.8 113.7,366.7 114.0,368.4 114.3,370.2 114.7,372.6 115.0,373.3 115.3,374.9 115.6,377.3 118.1,379.2 119.8,379.7 121.5,380.3 123.2,380.8 125.3,381.1 127.4,381.4 129.5,381.7 131.3,381.8 133.1,381.8 134.9,381.9 136.7,382.0 138.5,382.0 140.3,382.1" fill="none" stroke="#404040" stroke-width="0.95" stroke-linejoin="round"/>
<polyline points="144.6,382.0 144.6,380.4 144.6,379.4 144.6,377.7 144.6,376.2 144.6,373.9 144.6,373.0 144.6,371.3 144.6,368.7 144.6,367.9 144.6,366.4 144.6,364.5 144.6,362.7 144.8,364.4 144.9,365.8 145.1,367.6 145.2,369.1 145.3,370.6 145.5,373.0 145.7,374.3 145.8,376.3 147.1,375.7 148.3,374.2 149.4,372.0 150.4,371.6 151.4,369.7 152.5,367.9 153.3,366.8 154.2,365.1 155.0,363.5 155.9,361.4 156.7,359.6 157.2,357.3 157.6,356.7 158.1,354.3 158.5,352.8 159.0,351.7 159.4,349.9 159.9,348.1 160.3,347.2 160.8,345.0 161.0,343.6 161.2,341.6 161.4,339.9 161.6,339.1 161.8,337.0 162.0,335.8 162.1,333.6 162.3,331.8 162.5,330.6 162.7,329.4 162.9,326.9 163.1,326.2 163.3,324.2 163.5,323.2 163.6,321.4 163.8,319.8 163.9,317.1 164.1,316.3 164.2,315.1 164.4,312.3 164.5,311.0 164.7,309.4 164.8,308.1 165.0,306.5 165.3,304.7 165.5,303.1 165.8,301.8 166.1,299.0 166.3,297.4 166.6,295.8 166.8,294.1 167.1,292.9 167.2,290.6 167.3,290.3 167.5,288.4 167.6,285.7 167.7,284.6 167.8,282.7 168.0,281.1 168.1,279.5 168.2,278.2 168.3,276.5 168.5,274.5 168.6,272.6 168.7,271.2 168.8,269.2 169.0,268.2 169.1,266.8 169.2,264.8 169.9,262.9 170.6,260.7 171.2,259.6 172.5,258.1 173.8,257.5 174.1,259.0 174.4,261.0 174.7,262.9 175.1,264.0 175.4,265.8 175.6,268.0 175.9,269.5 176.1,270.9 176.3,272.6 176.6,274.5 176.8,276.6 177.0,277.9 177.3,280.0 177.5,281.5 177.7,283.1 177.9,284.4 178.1,286.4 178.3,288.3 178.5,289.0 178.7,291.1 178.9,292.8 179.1,295.0 179.2,296.7 179.4,297.6 179.6,299.9 179.8,301.4 180.0,302.3 180.2,304.2 180.4,305.3 180.6,307.5 180.8,309.6 181.0,311.1 181.2,313.2 181.4,314.7 181.6,316.3 181.7,318.1 181.9,319.5 182.1,320.6 182.3,323.0 182.5,323.9 182.7,326.2 183.8,327.8 184.8,330.4 185.2,332.5 185.5,333.2 185.9,335.0 186.2,336.8 186.6,339.6 186.9,340.8 187.9,342.1 189.0,343.6 190.0,346.0 191.1,344.7 192.1,342.5 192.5,340.3 192.8,339.7 193.2,337.9 193.6,336.5 193.9,335.0 194.3,332.9 194.7,331.5 195.1,328.9 195.4,328.2 195.8,326.2 196.0,327.9 196.3,329.8 196.5,330.5 196.7,333.1 196.9,334.9 197.2,335.3 197.4,337.3 197.6,339.2 197.8,341.2 198.1,342.0 198.3,344.0 199.4,344.9 200.4,346.2 201.4,348.1 202.5,349.2 203.6,351.1 204.6,352.2 205.6,353.7 206.7,355.4 207.8,356.7 208.9,358.0 210.0,359.6 211.3,359.9 213.2,361.0 215.0,362.4 215.8,360.3 216.7,359.3 217.5,357.8 219.6,357.4 221.7,355.7 222.5,354.1 223.4,353.1 224.2,350.8 225.1,350.1 225.9,348.4 226.4,347.2 226.9,345.5 227.4,343.7 228.0,342.1 228.5,340.8 229.0,339.0 230.1,341.7 231.1,343.2 231.3,341.0 231.5,339.2 231.7,338.4 231.9,336.9 232.1,334.7 232.2,332.9 232.4,331.5 232.6,329.1 232.8,327.5 233.0,325.7 233.2,324.4 233.5,322.9 233.8,320.9 234.1,319.2 234.4,318.2 234.7,316.9 235.0,314.4 235.3,313.3 235.6,311.3 235.9,309.8 236.3,308.7 236.6,306.6 237.0,304.5 237.3,302.8 237.7,300.9 238.0,299.9 238.4,298.3 239.2,296.7 240.1,295.0 240.9,294.1 241.6,292.2 242.3,290.4 243.0,288.9 243.8,287.2 244.7,284.7 245.0,285.9 245.4,288.9 245.8,289.9 246.1,291.8 246.5,293.3 246.8,295.1 246.9,297.2 247.1,298.7 247.2,300.0 247.4,301.5 247.5,303.4 247.7,305.2 247.8,306.1 248.0,308.2 248.1,310.1 248.3,311.0 248.4,312.3 248.6,313.9 248.7,316.1 248.9,317.7 249.0,319.7 249.2,321.1 249.3,321.9 249.5,323.4 249.6,325.1 249.8,326.6 249.9,328.6 250.1,330.5 250.2,332.3 250.3,334.0 250.5,334.7 250.7,337.2 250.8,338.1 250.9,339.8 251.1,341.9 251.2,342.6 251.4,344.3 251.6,346.9 251.7,347.8 251.8,349.5 252.0,351.4 252.2,353.2 252.3,353.9 252.4,355.9 252.6,357.8 252.8,359.4 253.1,361.2 253.3,362.5 253.5,364.8 253.7,367.0 254.0,367.9 254.2,369.8 254.4,370.9 254.6,372.9 254.9,375.1 255.1,376.6 256.1,377.4 257.2,379.2 258.2,380.5 259.3,381.8 261.1,382.0 262.9,382.2 264.7,382.4 266.4,382.7 268.2,382.9 270.0,383.1 271.8,383.3" fill="none" stroke="#404040" stroke-width="0.95" stroke-linejoin="round"/>
<text x="108.2" y="275.4" font-size="12" text-anchor="start" font-weight="bold" fill="#231f20" >PI+</text>
<text x="247.6" y="275.4" font-size="12" text-anchor="start" font-weight="bold" fill="#231f20" >PI+</text>
<text x="76.2" y="405.6" font-size="12" text-anchor="middle" font-weight="normal" fill="#231f20" >DMSO</text>
<text x="212.6" y="405.6" font-size="12.6" text-anchor="middle" font-weight="normal" fill="#231f20" >Compound <tspan font-weight="bold">1</tspan></text>
<text x="5" y="459.4" font-size="11.5" text-anchor="start" font-weight="bold" fill="#231f20" >e</text>
<defs><clipPath id="cp0"><rect x="55.8" y="457.1" width="94.0" height="92.1"/></clipPath><clipPath id="cp1"><rect x="152.3" y="457.1" width="94.5" height="92.1"/></clipPath><clipPath id="cp2"><rect x="55.8" y="551.7" width="94.0" height="92.7"/></clipPath><clipPath id="cp3"><rect x="152.3" y="551.7" width="94.5" height="92.7"/></clipPath><filter id="bl" x="-5%" y="-5%" width="110%" height="110%"><feGaussianBlur stdDeviation="0.45"/></filter></defs>
<g clip-path="url(#cp0)">
<rect x="55.8" y="457.1" width="94.0" height="92.1" fill="#c0bec4"/>
<circle cx="103.6" cy="504.0" r="44.2" fill="#d0ced4" stroke="#d4d2d8" stroke-width="1.4"/>
<circle cx="103.6" cy="504.0" r="43.0" fill="none" stroke="#a9a7ae" stroke-width="0.8"/>
<g filter="url(#bl)">
<circle cx="111.2" cy="468.0" r="2.4" fill="#6a50a6" opacity="0.85"/>
<circle cx="111.1" cy="468.2" r="1.4" fill="#7a5cb0" opacity="0.7"/>
<circle cx="105.8" cy="467.2" r="1.8" fill="#6a50a6" opacity="0.85"/>
<circle cx="107.3" cy="467.1" r="1.1" fill="#7a5cb0" opacity="0.7"/>
<circle cx="98.0" cy="468.0" r="1.2" fill="#6a50a6" opacity="0.85"/>
<circle cx="119.8" cy="465.7" r="1.2" fill="#6a50a6" opacity="0.85"/>
<circle cx="124.5" cy="472.7" r="1.2" fill="#6a50a6" opacity="0.85"/>
<circle cx="90.2" cy="473.5" r="1.8" fill="#6a50a6" opacity="0.85"/>
<circle cx="90.2" cy="473.8" r="1.1" fill="#7a5cb0" opacity="0.7"/>
<circle cx="89.4" cy="476.6" r="1.8" fill="#6a50a6" opacity="0.85"/>
<circle cx="88.2" cy="476.7" r="1.1" fill="#7a5cb0" opacity="0.7"/>
<circle cx="97.2" cy="476.6" r="1.2" fill="#6a50a6" opacity="0.85"/>
<circle cx="112.0" cy="478.2" r="1.2" fill="#6a50a6" opacity="0.85"/>
<circle cx="123.7" cy="476.6" r="1.8" fill="#6a50a6" opacity="0.85"/>
<circle cx="124.2" cy="477.7" r="1.1" fill="#7a5cb0" opacity="0.7"/>
<circle cx="132.3" cy="476.6" r="1.2" fill="#6a50a6" opacity="0.85"/>
<circle cx="130.8" cy="480.5" r="1.2" fill="#6a50a6" opacity="0.85"/>
<circle cx="140.1" cy="482.9" r="1.2" fill="#6a50a6" opacity="0.85"/>
<circle cx="73.0" cy="482.1" r="1.8" fill="#6a50a6" opacity="0.85"/>
<circle cx="71.5" cy="481.4" r="1.1" fill="#7a5cb0" opacity="0.7"/>
<circle cx="75.3" cy="486.0" r="1.2" fill="#6a50a6" opacity="0.85"/>
<circle cx="94.1" cy="486.8" r="1.2" fill="#6a50a6" opacity="0.85"/>
<circle cx="98.7" cy="486.0" r="1.8" fill="#6a50a6" opacity="0.85"/>
<circle cx="97.3" cy="487.1" r="1.1" fill="#7a5cb0" opacity="0.7"/>
<circle cx="105.8" cy="486.8" r="1.8" fill="#6a50a6" opacity="0.85"/>
<circle cx="106.5" cy="485.1" r="1.1" fill="#7a5cb0" opacity="0.7"/>
<circle cx="109.7" cy="486.8" r="1.2" fill="#6a50a6" opacity="0.85"/>
<circle cx="113.6" cy="490.7" r="1.2" fill="#6a50a6" opacity="0.85"/>
<circle cx="118.3" cy="490.7" r="1.2" fill="#6a50a6" opacity="0.85"/>
<circle cx="128.4" cy="490.7" r="1.8" fill="#6a50a6" opacity="0.85"/>
<circle cx="130.1" cy="492.3" r="1.1" fill="#7a5cb0" opacity="0.7"/>
<circle cx="135.4" cy="488.3" r="1.2" fill="#6a50a6" opacity="0.85"/>
<circle cx="143.2" cy="492.2" r="1.2" fill="#6a50a6" opacity="0.85"/>
<circle cx="81.6" cy="495.4" r="1.8" fill="#6a50a6" opacity="0.85"/>
<circle cx="82.1" cy="495.8" r="1.1" fill="#7a5cb0" opacity="0.7"/>
<circle cx="93.3" cy="494.6" r="1.2" fill="#6a50a6" opacity="0.85"/>
<circle cx="104.2" cy="493.8" r="1.2" fill="#6a50a6" opacity="0.85"/>
<circle cx="98.0" cy="499.3" r="1.8" fill="#6a50a6" opacity="0.85"/>
<circle cx="96.7" cy="497.5" r="1.1" fill="#7a5cb0" opacity="0.7"/>
<circle cx="103.4" cy="499.3" r="2.4" fill="#6a50a6" opacity="0.85"/>
<circle cx="103.5" cy="497.7" r="1.4" fill="#7a5cb0" opacity="0.7"/>
<circle cx="107.3" cy="499.3" r="1.8" fill="#6a50a6" opacity="0.85"/>
<circle cx="106.2" cy="498.3" r="1.1" fill="#7a5cb0" opacity="0.7"/>
<circle cx="111.2" cy="500.8" r="1.2" fill="#6a50a6" opacity="0.85"/>
<circle cx="88.6" cy="503.2" r="1.2" fill="#6a50a6" opacity="0.85"/>
<circle cx="119.8" cy="501.6" r="1.2" fill="#6a50a6" opacity="0.85"/>
<circle cx="127.6" cy="506.3" r="1.8" fill="#6a50a6" opacity="0.85"/>
<circle cx="125.9" cy="506.2" r="1.1" fill="#7a5cb0" opacity="0.7"/>
<circle cx="138.6" cy="502.4" r="1.2" fill="#6a50a6" opacity="0.85"/>
<circle cx="142.5" cy="505.5" r="1.2" fill="#6a50a6" opacity="0.85"/>
<circle cx="108.9" cy="507.8" r="2.4" fill="#6a50a6" opacity="0.85"/>
<circle cx="108.7" cy="509.1" r="1.4" fill="#7a5cb0" opacity="0.7"/>
<circle cx="99.5" cy="514.1" r="2.4" fill="#6a50a6" opacity="0.85"/>
<circle cx="99.6" cy="514.6" r="1.4" fill="#7a5cb0" opacity="0.7"/>
<circle cx="118.3" cy="513.3" r="1.2" fill="#6a50a6" opacity="0.85"/>
<circle cx="124.5" cy="513.3" r="1.8" fill="#6a50a6" opacity="0.85"/>
<circle cx="124.5" cy="513.9" r="1.1" fill="#7a5cb0" opacity="0.7"/>
<circle cx="122.9" cy="517.2" r="1.2" fill="#6a50a6" opacity="0.85"/>
<circle cx="133.9" cy="514.9" r="1.8" fill="#6a50a6" opacity="0.85"/>
<circle cx="133.7" cy="514.1" r="1.1" fill="#7a5cb0" opacity="0.7"/>
<circle cx="141.7" cy="515.7" r="1.2" fill="#6a50a6" opacity="0.85"/>
<circle cx="79.2" cy="516.4" r="1.2" fill="#6a50a6" opacity="0.85"/>
<circle cx="81.6" cy="520.3" r="1.2" fill="#6a50a6" opacity="0.85"/>
<circle cx="89.4" cy="520.3" r="1.8" fill="#6a50a6" opacity="0.85"/>
<circle cx="91.2" cy="522.1" r="1.1" fill="#7a5cb0" opacity="0.7"/>
<circle cx="92.5" cy="521.1" r="1.2" fill="#6a50a6" opacity="0.85"/>
<circle cx="97.2" cy="523.5" r="1.8" fill="#6a50a6" opacity="0.85"/>
<circle cx="98.4" cy="524.2" r="1.1" fill="#7a5cb0" opacity="0.7"/>
<circle cx="93.3" cy="526.6" r="1.8" fill="#6a50a6" opacity="0.85"/>
<circle cx="92.6" cy="525.6" r="1.1" fill="#7a5cb0" opacity="0.7"/>
<circle cx="105.8" cy="526.6" r="1.2" fill="#6a50a6" opacity="0.85"/>
<circle cx="115.1" cy="522.7" r="1.2" fill="#6a50a6" opacity="0.85"/>
<circle cx="122.9" cy="525.8" r="1.2" fill="#6a50a6" opacity="0.85"/>
<circle cx="113.6" cy="530.5" r="1.8" fill="#6a50a6" opacity="0.85"/>
<circle cx="112.8" cy="528.9" r="1.1" fill="#7a5cb0" opacity="0.7"/>
<circle cx="104.2" cy="534.4" r="1.8" fill="#6a50a6" opacity="0.85"/>
<circle cx="105.2" cy="534.0" r="1.1" fill="#7a5cb0" opacity="0.7"/>
<circle cx="84.7" cy="535.2" r="1.2" fill="#6a50a6" opacity="0.85"/>
<circle cx="94.8" cy="533.6" r="1.2" fill="#6a50a6" opacity="0.85"/>
<circle cx="73.0" cy="521.9" r="1.2" fill="#6a50a6" opacity="0.85"/>
<circle cx="69.9" cy="503.9" r="1.2" fill="#6a50a6" opacity="0.85"/>
<circle cx="143.2" cy="522.7" r="1.2" fill="#6a50a6" opacity="0.85"/>
<circle cx="117.8" cy="483.5" r="0.98" fill="#8f78b8" opacity="0.8"/>
<circle cx="104.1" cy="503.2" r="0.60" fill="#8f78b8" opacity="0.8"/>
<circle cx="126.8" cy="489.3" r="0.99" fill="#8f78b8" opacity="0.8"/>
<circle cx="95.0" cy="510.4" r="0.81" fill="#8f78b8" opacity="0.8"/>
<circle cx="107.3" cy="483.5" r="0.54" fill="#8f78b8" opacity="0.8"/>
<circle cx="84.1" cy="538.1" r="0.88" fill="#8f78b8" opacity="0.8"/>
<circle cx="118.2" cy="517.4" r="0.55" fill="#8f78b8" opacity="0.8"/>
<circle cx="136.8" cy="517.1" r="0.59" fill="#8f78b8" opacity="0.8"/>
<circle cx="78.7" cy="494.2" r="0.60" fill="#8f78b8" opacity="0.8"/>
<circle cx="102.0" cy="489.6" r="0.82" fill="#8f78b8" opacity="0.8"/>
<circle cx="122.9" cy="521.3" r="0.61" fill="#8f78b8" opacity="0.8"/>
<circle cx="98.7" cy="543.1" r="0.90" fill="#8f78b8" opacity="0.8"/>
<circle cx="91.0" cy="539.4" r="0.61" fill="#8f78b8" opacity="0.8"/>
<circle cx="74.5" cy="526.7" r="0.82" fill="#8f78b8" opacity="0.8"/>
<circle cx="135.7" cy="527.4" r="0.61" fill="#8f78b8" opacity="0.8"/>
<circle cx="101.8" cy="539.1" r="0.66" fill="#8f78b8" opacity="0.8"/>
<circle cx="100.5" cy="514.3" r="0.55" fill="#8f78b8" opacity="0.8"/>
<circle cx="86.5" cy="494.2" r="0.80" fill="#8f78b8" opacity="0.8"/>
<circle cx="85.0" cy="523.4" r="0.98" fill="#8f78b8" opacity="0.8"/>
<circle cx="73.4" cy="507.0" r="0.93" fill="#8f78b8" opacity="0.8"/>
<circle cx="110.0" cy="518.3" r="0.95" fill="#8f78b8" opacity="0.8"/>
<circle cx="111.9" cy="485.8" r="0.59" fill="#8f78b8" opacity="0.8"/>
<circle cx="101.0" cy="465.2" r="0.60" fill="#8f78b8" opacity="0.8"/>
<circle cx="139.3" cy="492.4" r="0.80" fill="#8f78b8" opacity="0.8"/>
<circle cx="92.2" cy="510.1" r="0.52" fill="#8f78b8" opacity="0.8"/>
<circle cx="122.6" cy="499.4" r="0.85" fill="#8f78b8" opacity="0.8"/>
<circle cx="102.0" cy="540.2" r="0.80" fill="#8f78b8" opacity="0.8"/>
<circle cx="99.1" cy="520.1" r="0.86" fill="#8f78b8" opacity="0.8"/>
<circle cx="121.0" cy="512.0" r="0.78" fill="#8f78b8" opacity="0.8"/>
<circle cx="122.4" cy="478.9" r="0.64" fill="#8f78b8" opacity="0.8"/>
<circle cx="119.3" cy="495.0" r="0.51" fill="#8f78b8" opacity="0.8"/>
<circle cx="100.4" cy="530.5" r="0.53" fill="#8f78b8" opacity="0.8"/>
<circle cx="114.5" cy="525.7" r="0.79" fill="#8f78b8" opacity="0.8"/>
<circle cx="119.9" cy="521.7" r="0.95" fill="#8f78b8" opacity="0.8"/>
<circle cx="135.8" cy="500.0" r="0.85" fill="#8f78b8" opacity="0.8"/>
<circle cx="90.7" cy="496.4" r="0.52" fill="#8f78b8" opacity="0.8"/>
<circle cx="141.5" cy="508.2" r="0.85" fill="#8f78b8" opacity="0.8"/>
<circle cx="109.3" cy="502.6" r="0.82" fill="#8f78b8" opacity="0.8"/>
<circle cx="69.6" cy="507.8" r="0.66" fill="#8f78b8" opacity="0.8"/>
<circle cx="114.6" cy="503.9" r="0.77" fill="#8f78b8" opacity="0.8"/>
<circle cx="100.5" cy="466.1" r="0.87" fill="#8f78b8" opacity="0.8"/>
<circle cx="93.4" cy="469.8" r="0.96" fill="#8f78b8" opacity="0.8"/>
<circle cx="83.8" cy="530.5" r="0.95" fill="#8f78b8" opacity="0.8"/>
<circle cx="121.4" cy="485.2" r="0.90" fill="#8f78b8" opacity="0.8"/>
<circle cx="123.4" cy="481.1" r="0.81" fill="#8f78b8" opacity="0.8"/>
<circle cx="81.0" cy="524.5" r="0.80" fill="#8f78b8" opacity="0.8"/>
<circle cx="131.6" cy="519.4" r="1.00" fill="#8f78b8" opacity="0.8"/>
<circle cx="128.5" cy="480.6" r="0.69" fill="#8f78b8" opacity="0.8"/>
<circle cx="100.7" cy="473.6" r="0.72" fill="#8f78b8" opacity="0.8"/>
<circle cx="109.7" cy="494.1" r="0.88" fill="#8f78b8" opacity="0.8"/>
<circle cx="134.1" cy="509.7" r="0.74" fill="#8f78b8" opacity="0.8"/>
<circle cx="107.7" cy="537.1" r="0.75" fill="#8f78b8" opacity="0.8"/>
<circle cx="74.7" cy="478.7" r="0.63" fill="#8f78b8" opacity="0.8"/>
<circle cx="125.5" cy="505.5" r="0.84" fill="#8f78b8" opacity="0.8"/>
<circle cx="108.4" cy="519.7" r="0.95" fill="#8f78b8" opacity="0.8"/>
<circle cx="89.4" cy="481.5" r="0.95" fill="#8f78b8" opacity="0.8"/>
<circle cx="88.4" cy="532.8" r="0.60" fill="#8f78b8" opacity="0.8"/>
<circle cx="71.0" cy="519.1" r="0.96" fill="#8f78b8" opacity="0.8"/>
<circle cx="121.7" cy="487.0" r="0.79" fill="#8f78b8" opacity="0.8"/>
<circle cx="97.6" cy="517.4" r="0.75" fill="#8f78b8" opacity="0.8"/>
<circle cx="122.8" cy="472.5" r="0.86" fill="#8f78b8" opacity="0.8"/>
<circle cx="123.6" cy="497.4" r="0.58" fill="#8f78b8" opacity="0.8"/>
<circle cx="83.6" cy="510.4" r="0.61" fill="#8f78b8" opacity="0.8"/>
<circle cx="76.5" cy="520.2" r="0.75" fill="#8f78b8" opacity="0.8"/>
<circle cx="89.0" cy="537.5" r="0.99" fill="#8f78b8" opacity="0.8"/>
<circle cx="93.2" cy="507.2" r="0.52" fill="#8f78b8" opacity="0.8"/>
<circle cx="109.3" cy="498.1" r="0.85" fill="#8f78b8" opacity="0.8"/>
<circle cx="83.5" cy="494.4" r="0.90" fill="#8f78b8" opacity="0.8"/>
<circle cx="118.2" cy="505.7" r="0.73" fill="#8f78b8" opacity="0.8"/>
<circle cx="139.6" cy="509.6" r="0.62" fill="#8f78b8" opacity="0.8"/>
</g>
<path d="M63.6,519.0A42,42 0 0 1 88.6,465.0" fill="none" stroke="#e4e2e8" stroke-width="2" opacity="0.7"/>
</g>
<text x="147.5" y="546.6" font-size="12" text-anchor="end" font-weight="normal" fill="#1e1e1e" >HCT116</text>
<g clip-path="url(#cp1)">
<rect x="152.3" y="457.1" width="94.5" height="92.1" fill="#c0bec4"/>
<circle cx="200.4" cy="504.0" r="44.2" fill="#c6c4ca" stroke="#d4d2d8" stroke-width="1.4"/>
<circle cx="200.4" cy="504.0" r="43.0" fill="none" stroke="#a9a7ae" stroke-width="0.8"/>
</g>
<text x="244.5" y="546.6" font-size="12" text-anchor="end" font-weight="normal" fill="#1e1e1e" >HCT116</text>
<g clip-path="url(#cp2)">
<rect x="55.8" y="551.7" width="94.0" height="92.7" fill="#c0bec4"/>
<circle cx="103.6" cy="598.8" r="44.2" fill="#d0ced4" stroke="#d4d2d8" stroke-width="1.4"/>
<circle cx="103.6" cy="598.8" r="43.0" fill="none" stroke="#a9a7ae" stroke-width="0.8"/>
<g filter="url(#bl)">
<circle cx="96.5" cy="613.1" r="0.48" fill="#a397b4"/>
<circle cx="79.4" cy="593.3" r="0.86" fill="#a397b4"/>
<circle cx="106.2" cy="610.6" r="0.48" fill="#b39fb0"/>
<circle cx="126.1" cy="613.3" r="0.88" fill="#a397b4"/>
<circle cx="82.3" cy="575.9" r="0.71" fill="#a397b4"/>
<circle cx="71.3" cy="623.3" r="0.70" fill="#a397b4"/>
<circle cx="121.4" cy="618.6" r="0.71" fill="#a397b4"/>
<circle cx="72.1" cy="586.3" r="0.71" fill="#a397b4"/>
<circle cx="87.5" cy="579.7" r="0.70" fill="#a397b4"/>
<circle cx="82.4" cy="579.2" r="0.80" fill="#b39fb0"/>
<circle cx="65.1" cy="607.3" r="0.58" fill="#b0a4ba"/>
<circle cx="113.0" cy="565.9" r="0.49" fill="#958aac"/>
<circle cx="94.6" cy="626.3" r="0.78" fill="#b0a4ba"/>
<circle cx="94.0" cy="638.3" r="0.68" fill="#a397b4"/>
<circle cx="115.8" cy="619.5" r="0.64" fill="#b39fb0"/>
<circle cx="114.7" cy="596.2" r="0.60" fill="#b0a4ba"/>
<circle cx="86.6" cy="622.2" r="0.48" fill="#b39fb0"/>
<circle cx="121.3" cy="610.7" r="0.48" fill="#a397b4"/>
<circle cx="93.7" cy="567.4" r="0.58" fill="#b39fb0"/>
<circle cx="78.3" cy="620.9" r="0.87" fill="#a397b4"/>
<circle cx="83.9" cy="624.1" r="0.48" fill="#b39fb0"/>
<circle cx="105.3" cy="584.2" r="0.63" fill="#958aac"/>
<circle cx="128.6" cy="584.4" r="0.65" fill="#958aac"/>
<circle cx="66.9" cy="587.1" r="0.84" fill="#b39fb0"/>
<circle cx="98.9" cy="624.9" r="0.76" fill="#b0a4ba"/>
<circle cx="89.2" cy="612.3" r="0.53" fill="#a397b4"/>
<circle cx="105.8" cy="618.5" r="0.82" fill="#b39fb0"/>
<circle cx="112.6" cy="618.7" r="0.64" fill="#958aac"/>
<circle cx="82.6" cy="621.4" r="0.76" fill="#958aac"/>
<circle cx="71.5" cy="595.7" r="0.66" fill="#a397b4"/>
<circle cx="131.2" cy="569.9" r="0.63" fill="#b39fb0"/>
<circle cx="81.2" cy="616.4" r="0.48" fill="#b39fb0"/>
<circle cx="120.7" cy="606.5" r="0.50" fill="#958aac"/>
<circle cx="93.0" cy="591.1" r="0.69" fill="#958aac"/>
<circle cx="134.1" cy="588.7" r="0.84" fill="#a397b4"/>
<circle cx="91.7" cy="588.5" r="0.88" fill="#b0a4ba"/>
<circle cx="81.0" cy="581.9" r="0.83" fill="#a397b4"/>
<circle cx="131.6" cy="597.6" r="0.59" fill="#b39fb0"/>
<circle cx="125.5" cy="626.8" r="0.67" fill="#b0a4ba"/>
<circle cx="93.1" cy="571.3" r="0.88" fill="#958aac"/>
<circle cx="88.1" cy="596.1" r="0.79" fill="#a397b4"/>
<circle cx="93.8" cy="630.2" r="0.76" fill="#a397b4"/>
<circle cx="101.9" cy="623.6" r="0.61" fill="#958aac"/>
<circle cx="108.7" cy="628.6" r="0.74" fill="#b0a4ba"/>
<circle cx="76.0" cy="575.1" r="0.81" fill="#958aac"/>
<circle cx="118.3" cy="566.8" r="0.54" fill="#958aac"/>
<circle cx="68.6" cy="600.4" r="0.81" fill="#a397b4"/>
<circle cx="85.8" cy="602.0" r="0.65" fill="#b0a4ba"/>
<circle cx="141.2" cy="583.1" r="0.49" fill="#b0a4ba"/>
<circle cx="126.1" cy="615.7" r="0.54" fill="#b0a4ba"/>
<circle cx="75.9" cy="571.5" r="0.67" fill="#a397b4"/>
<circle cx="82.6" cy="568.8" r="0.83" fill="#a397b4"/>
<circle cx="122.2" cy="616.3" r="0.67" fill="#958aac"/>
<circle cx="119.4" cy="631.7" r="0.49" fill="#b0a4ba"/>
<circle cx="136.5" cy="587.3" r="0.63" fill="#b39fb0"/>
<circle cx="136.6" cy="587.4" r="0.90" fill="#958aac"/>
<circle cx="134.6" cy="604.3" r="0.81" fill="#b39fb0"/>
<circle cx="126.2" cy="628.5" r="0.75" fill="#b39fb0"/>
<circle cx="85.7" cy="623.4" r="0.46" fill="#958aac"/>
<circle cx="114.3" cy="565.6" r="0.69" fill="#a397b4"/>
<circle cx="128.3" cy="587.9" r="0.82" fill="#958aac"/>
<circle cx="108.6" cy="618.8" r="0.68" fill="#b0a4ba"/>
<circle cx="105.6" cy="575.5" r="0.83" fill="#b39fb0"/>
<circle cx="136.3" cy="612.0" r="0.75" fill="#b39fb0"/>
<circle cx="115.3" cy="571.8" r="0.69" fill="#958aac"/>
<circle cx="98.1" cy="598.0" r="0.80" fill="#b39fb0"/>
<circle cx="75.6" cy="576.1" r="0.53" fill="#958aac"/>
<circle cx="69.2" cy="604.6" r="0.60" fill="#a397b4"/>
<circle cx="73.2" cy="595.3" r="0.85" fill="#a397b4"/>
<circle cx="120.4" cy="605.1" r="0.80" fill="#a397b4"/>
<circle cx="72.9" cy="597.4" r="0.65" fill="#a397b4"/>
<circle cx="81.4" cy="579.9" r="0.76" fill="#958aac"/>
<circle cx="75.0" cy="607.7" r="0.68" fill="#b39fb0"/>
<circle cx="104.0" cy="628.5" r="0.87" fill="#b0a4ba"/>
<circle cx="118.0" cy="587.3" r="0.51" fill="#b39fb0"/>
<circle cx="123.3" cy="617.7" r="0.75" fill="#a397b4"/>
<circle cx="86.6" cy="607.1" r="0.80" fill="#b0a4ba"/>
<circle cx="116.5" cy="589.1" r="0.51" fill="#b0a4ba"/>
<circle cx="133.5" cy="571.8" r="0.79" fill="#958aac"/>
<circle cx="135.6" cy="620.4" r="0.90" fill="#958aac"/>
<circle cx="111.8" cy="584.5" r="0.90" fill="#b39fb0"/>
<circle cx="81.7" cy="614.0" r="0.59" fill="#b0a4ba"/>
<circle cx="102.6" cy="593.2" r="0.65" fill="#b39fb0"/>
<circle cx="127.1" cy="601.5" r="0.68" fill="#b0a4ba"/>
<circle cx="141.0" cy="614.8" r="0.89" fill="#958aac"/>
<circle cx="120.3" cy="611.8" r="0.86" fill="#a397b4"/>
<circle cx="118.5" cy="631.2" r="0.83" fill="#b39fb0"/>
<circle cx="85.7" cy="563.2" r="0.52" fill="#b39fb0"/>
<circle cx="130.7" cy="583.8" r="0.49" fill="#b0a4ba"/>
<circle cx="135.4" cy="610.9" r="0.85" fill="#b39fb0"/>
<circle cx="103.0" cy="604.1" r="0.81" fill="#a397b4"/>
<circle cx="136.4" cy="617.9" r="0.57" fill="#a397b4"/>
<circle cx="106.8" cy="601.9" r="0.87" fill="#b39fb0"/>
<circle cx="101.9" cy="613.5" r="0.87" fill="#958aac"/>
<circle cx="124.2" cy="594.8" r="0.54" fill="#958aac"/>
<circle cx="95.0" cy="619.8" r="0.58" fill="#958aac"/>
<circle cx="86.3" cy="598.8" r="0.81" fill="#b0a4ba"/>
<circle cx="111.5" cy="598.6" r="0.78" fill="#a397b4"/>
<circle cx="86.7" cy="593.2" r="0.56" fill="#b39fb0"/>
<circle cx="72.2" cy="609.7" r="0.75" fill="#b39fb0"/>
<circle cx="66.5" cy="587.9" r="0.76" fill="#b0a4ba"/>
<circle cx="127.5" cy="596.2" r="0.63" fill="#958aac"/>
<circle cx="98.1" cy="606.7" r="0.46" fill="#958aac"/>
<circle cx="76.5" cy="571.6" r="0.52" fill="#b39fb0"/>
<circle cx="136.0" cy="617.9" r="0.72" fill="#b0a4ba"/>
<circle cx="100.5" cy="590.7" r="0.52" fill="#958aac"/>
<circle cx="83.8" cy="605.9" r="0.89" fill="#b0a4ba"/>
<circle cx="84.2" cy="592.9" r="0.55" fill="#b0a4ba"/>
<circle cx="113.3" cy="620.5" r="0.66" fill="#a397b4"/>
<circle cx="85.2" cy="598.5" r="0.49" fill="#a397b4"/>
<circle cx="110.0" cy="584.7" r="0.63" fill="#a397b4"/>
<circle cx="93.6" cy="629.8" r="0.71" fill="#a397b4"/>
<circle cx="68.7" cy="592.4" r="0.79" fill="#b39fb0"/>
<circle cx="98.3" cy="570.5" r="0.78" fill="#b0a4ba"/>
<circle cx="98.3" cy="592.1" r="0.78" fill="#b39fb0"/>
<circle cx="109.4" cy="584.7" r="0.82" fill="#a397b4"/>
<circle cx="70.1" cy="579.3" r="0.49" fill="#958aac"/>
<circle cx="135.2" cy="607.4" r="0.62" fill="#a397b4"/>
<circle cx="94.8" cy="601.6" r="0.73" fill="#a397b4"/>
<circle cx="91.5" cy="572.8" r="0.66" fill="#a397b4"/>
<circle cx="139.4" cy="615.7" r="0.75" fill="#a397b4"/>
<circle cx="135.8" cy="613.0" r="0.81" fill="#b0a4ba"/>
<circle cx="114.9" cy="582.5" r="0.55" fill="#958aac"/>
<circle cx="87.2" cy="576.4" r="0.48" fill="#b39fb0"/>
<circle cx="122.2" cy="587.1" r="0.73" fill="#a397b4"/>
<circle cx="96.5" cy="589.9" r="0.60" fill="#958aac"/>
<circle cx="83.8" cy="571.0" r="0.46" fill="#958aac"/>
<circle cx="123.3" cy="606.8" r="0.76" fill="#a397b4"/>
<circle cx="93.6" cy="579.1" r="0.66" fill="#b0a4ba"/>
<circle cx="89.8" cy="601.8" r="0.59" fill="#958aac"/>
<circle cx="127.8" cy="613.3" r="0.66" fill="#b0a4ba"/>
<circle cx="120.8" cy="562.3" r="0.90" fill="#b39fb0"/>
<circle cx="73.9" cy="624.5" r="0.48" fill="#958aac"/>
<circle cx="133.5" cy="617.9" r="0.88" fill="#b0a4ba"/>
<circle cx="128.6" cy="626.3" r="0.85" fill="#b0a4ba"/>
<circle cx="97.9" cy="580.0" r="0.63" fill="#b39fb0"/>
<circle cx="125.2" cy="632.5" r="0.63" fill="#b39fb0"/>
<circle cx="99.8" cy="572.7" r="0.59" fill="#b39fb0"/>
<circle cx="104.5" cy="597.4" r="0.83" fill="#b0a4ba"/>
<circle cx="132.4" cy="625.9" r="0.86" fill="#a397b4"/>
<circle cx="97.4" cy="623.1" r="0.63" fill="#b39fb0"/>
<circle cx="111.4" cy="590.6" r="0.79" fill="#b39fb0"/>
<circle cx="116.8" cy="581.6" r="0.83" fill="#a397b4"/>
<circle cx="94.8" cy="637.5" r="0.89" fill="#958aac"/>
<circle cx="82.4" cy="607.8" r="0.80" fill="#b0a4ba"/>
<circle cx="97.3" cy="601.9" r="0.86" fill="#b39fb0"/>
<circle cx="131.9" cy="587.8" r="0.47" fill="#a397b4"/>
<circle cx="100.6" cy="571.5" r="0.74" fill="#958aac"/>
<circle cx="101.6" cy="607.7" r="0.53" fill="#958aac"/>
<circle cx="84.9" cy="609.9" r="0.78" fill="#b0a4ba"/>
<circle cx="124.3" cy="595.7" r="0.59" fill="#958aac"/>
<circle cx="79.5" cy="589.8" r="0.74" fill="#958aac"/>
<circle cx="129.4" cy="612.0" r="0.70" fill="#b39fb0"/>
<circle cx="81.0" cy="605.7" r="0.64" fill="#b39fb0"/>
<circle cx="84.3" cy="592.9" r="0.60" fill="#958aac"/>
<circle cx="120.5" cy="609.7" r="0.81" fill="#b0a4ba"/>
<circle cx="105.3" cy="604.4" r="0.62" fill="#b39fb0"/>
<circle cx="103.1" cy="580.1" r="0.60" fill="#b0a4ba"/>
<circle cx="123.6" cy="607.1" r="0.51" fill="#b0a4ba"/>
<circle cx="71.1" cy="598.2" r="0.49" fill="#958aac"/>
<circle cx="123.9" cy="583.5" r="0.64" fill="#b39fb0"/>
<circle cx="89.5" cy="633.1" r="0.51" fill="#a397b4"/>
<circle cx="71.7" cy="615.1" r="0.89" fill="#b39fb0"/>
<circle cx="92.5" cy="599.6" r="0.89" fill="#b39fb0"/>
<circle cx="103.7" cy="612.4" r="0.52" fill="#958aac"/>
<circle cx="116.9" cy="596.5" r="0.49" fill="#b39fb0"/>
<circle cx="103.9" cy="597.4" r="0.55" fill="#958aac"/>
<circle cx="132.5" cy="583.0" r="0.88" fill="#b0a4ba"/>
<circle cx="82.7" cy="577.6" r="0.76" fill="#b39fb0"/>
<circle cx="111.9" cy="605.9" r="0.62" fill="#958aac"/>
<circle cx="108.9" cy="630.2" r="0.69" fill="#a397b4"/>
<circle cx="125.2" cy="598.4" r="0.74" fill="#b0a4ba"/>
<circle cx="124.7" cy="580.0" r="0.70" fill="#958aac"/>
<circle cx="129.5" cy="603.7" r="0.47" fill="#b0a4ba"/>
<circle cx="116.9" cy="635.1" r="0.49" fill="#b39fb0"/>
<circle cx="107.3" cy="625.3" r="0.55" fill="#b0a4ba"/>
<circle cx="126.9" cy="603.9" r="0.61" fill="#b39fb0"/>
<circle cx="100.9" cy="600.9" r="0.78" fill="#b0a4ba"/>
<circle cx="85.0" cy="598.3" r="0.59" fill="#958aac"/>
<circle cx="112.0" cy="581.0" r="0.57" fill="#958aac"/>
<circle cx="114.0" cy="590.2" r="0.72" fill="#b39fb0"/>
<circle cx="126.3" cy="581.6" r="0.88" fill="#a397b4"/>
<circle cx="119.2" cy="619.3" r="0.46" fill="#958aac"/>
<circle cx="81.9" cy="583.8" r="0.53" fill="#a397b4"/>
<circle cx="70.7" cy="609.6" r="0.78" fill="#b0a4ba"/>
<circle cx="143.2" cy="598.2" r="0.54" fill="#b0a4ba"/>
<circle cx="86.5" cy="574.6" r="0.46" fill="#b39fb0"/>
<circle cx="90.7" cy="577.2" r="0.89" fill="#b0a4ba"/>
<circle cx="90.9" cy="603.6" r="0.58" fill="#a397b4"/>
<circle cx="79.7" cy="631.1" r="0.70" fill="#a397b4"/>
<circle cx="105.0" cy="573.6" r="0.82" fill="#b0a4ba"/>
<circle cx="95.3" cy="602.6" r="0.54" fill="#b39fb0"/>
<circle cx="77.1" cy="591.8" r="0.61" fill="#b0a4ba"/>
<circle cx="109.3" cy="594.5" r="0.56" fill="#b39fb0"/>
<circle cx="85.2" cy="580.4" r="0.47" fill="#b39fb0"/>
<circle cx="139.9" cy="613.9" r="0.54" fill="#b0a4ba"/>
<circle cx="133.1" cy="611.1" r="0.57" fill="#b0a4ba"/>
<circle cx="134.7" cy="590.4" r="0.79" fill="#b0a4ba"/>
<circle cx="89.0" cy="562.2" r="0.45" fill="#b0a4ba"/>
<circle cx="105.0" cy="559.6" r="0.46" fill="#a397b4"/>
<circle cx="106.5" cy="627.0" r="0.88" fill="#b39fb0"/>
<circle cx="88.1" cy="612.3" r="0.82" fill="#b39fb0"/>
<circle cx="123.0" cy="620.2" r="0.81" fill="#a397b4"/>
<circle cx="100.9" cy="561.8" r="0.72" fill="#958aac"/>
<circle cx="92.7" cy="619.3" r="0.80" fill="#b0a4ba"/>
<circle cx="79.4" cy="582.3" r="0.79" fill="#b39fb0"/>
<circle cx="103.8" cy="609.3" r="0.67" fill="#a397b4"/>
<circle cx="87.8" cy="594.3" r="0.85" fill="#b39fb0"/>
<circle cx="124.6" cy="597.2" r="0.54" fill="#a397b4"/>
<circle cx="67.7" cy="618.2" r="0.53" fill="#b39fb0"/>
<circle cx="122.3" cy="619.5" r="0.79" fill="#958aac"/>
<circle cx="122.7" cy="571.4" r="0.80" fill="#a397b4"/>
<circle cx="97.7" cy="619.7" r="0.62" fill="#b0a4ba"/>
<circle cx="102.2" cy="580.6" r="0.53" fill="#958aac"/>
<circle cx="105.6" cy="620.5" r="0.60" fill="#958aac"/>
<circle cx="71.2" cy="623.7" r="0.74" fill="#958aac"/>
<circle cx="126.1" cy="615.3" r="0.50" fill="#a397b4"/>
<circle cx="67.0" cy="604.7" r="0.86" fill="#b39fb0"/>
<circle cx="125.1" cy="604.4" r="0.47" fill="#a397b4"/>
<circle cx="73.5" cy="576.8" r="0.87" fill="#958aac"/>
<circle cx="77.1" cy="626.3" r="0.72" fill="#b39fb0"/>
<circle cx="108.8" cy="565.8" r="0.50" fill="#a397b4"/>
<circle cx="77.0" cy="580.5" r="0.47" fill="#958aac"/>
<circle cx="99.0" cy="606.1" r="0.47" fill="#b0a4ba"/>
<circle cx="99.2" cy="559.9" r="0.82" fill="#a397b4"/>
<circle cx="82.6" cy="612.4" r="0.49" fill="#b0a4ba"/>
<circle cx="131.9" cy="604.5" r="0.48" fill="#b39fb0"/>
<circle cx="124.3" cy="614.2" r="0.74" fill="#958aac"/>
<circle cx="117.5" cy="607.8" r="0.63" fill="#b0a4ba"/>
<circle cx="98.9" cy="621.1" r="0.59" fill="#a397b4"/>
</g>
</g>
<text x="147.5" y="641.8" font-size="12" text-anchor="end" font-weight="normal" fill="#1e1e1e" >HT29</text>
<g clip-path="url(#cp3)">
<rect x="152.3" y="551.7" width="94.5" height="92.7" fill="#c0bec4"/>
<circle cx="200.4" cy="598.8" r="44.2" fill="#c6c4ca" stroke="#d4d2d8" stroke-width="1.4"/>
<circle cx="200.4" cy="598.8" r="43.0" fill="none" stroke="#a9a7ae" stroke-width="0.8"/>
</g>
<text x="244.5" y="641.8" font-size="12" text-anchor="end" font-weight="normal" fill="#1e1e1e" >HT29</text>
<text x="106.8" y="661.9" font-size="12" text-anchor="middle" font-weight="normal" fill="#231f20" >DMSO</text>
<text x="199.6" y="661.9" font-size="12" text-anchor="middle" font-weight="normal" fill="#231f20" >Compound <tspan font-weight="bold">1</tspan></text>
</svg></body></html>
